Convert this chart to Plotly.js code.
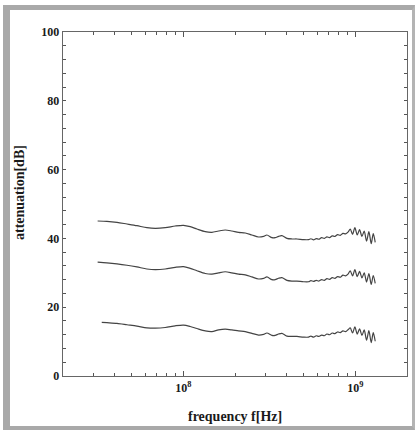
<!DOCTYPE html>
<html>
<head>
<meta charset="utf-8">
<script src="https://cdn.plot.ly/plotly-3.0.1.min.js"></script>
<style>
  html, body { margin: 0; padding: 0; background: #ffffff; width: 415px; height: 434px; overflow: hidden; }
  #frame { position: absolute; left: 3px; top: 5px; width: 402px; height: 416px;
           border-left: 7px solid #a9a9a9; border-top: 5px solid #a9a9a9;
           border-right: 3px solid #b4b4b4; border-bottom: 4px solid #a9a9a9; background: #ffffff; }
  #chart { position: absolute; left: 0; top: 0; width: 415px; height: 434px; }
</style>
</head>
<body>
<div id="frame"></div>
<div id="chart"></div>
<script>
// Frequencies in MHz (shared by upper and middle curves)
const freqMHz = [31.8, 36.0, 41.2, 47.1, 53.8, 61.5, 68.8, 78.6, 89.9, 100.4,
  109.8, 120.1, 134.2, 146.8, 160.5, 175.5, 191.8, 209.7, 229.4, 250.7,
  274.2, 293.2, 306.6, 327.9, 342.5, 358.3, 374.6, 400.6, 428.3, 458.0,
  500.7, 535.5, 552.4, 572.5, 593.3, 614.9, 637.3, 660.5, 684.5, 709.4,
  735.2, 761.9, 789.6, 818.3, 848.1, 878.9, 910.8, 935.3, 965.0, 995.6,
  1027, 1060, 1094, 1128, 1164, 1201, 1239, 1273, 1307];

// Lower curve starts slightly later
const freqLowMHz = [33.6, 36.0, 41.2, 47.1, 53.8, 61.5, 68.8, 78.6, 89.9, 100.4,
  109.8, 120.1, 134.2, 146.8, 160.5, 175.5, 191.8, 209.7, 229.4, 250.7,
  274.2, 293.2, 306.6, 327.9, 342.5, 358.3, 374.6, 400.6, 428.3, 458.0,
  500.7, 535.5, 552.4, 572.5, 593.3, 614.9, 637.3, 660.5, 684.5, 709.4,
  735.2, 761.9, 789.6, 818.3, 848.1, 878.9, 910.8, 935.3, 965.0, 995.6,
  1027, 1060, 1094, 1128, 1164, 1201, 1239, 1273, 1307];

const attenUpper = [45.06, 44.96, 44.67, 44.19, 43.70, 43.12, 42.93, 43.12, 43.60, 43.80,
  43.41, 42.73, 41.96, 41.76, 42.15, 42.44, 42.15, 41.76, 41.57, 40.99,
  40.41, 40.60, 40.99, 40.21, 40.21, 40.60, 40.79, 40.02, 39.83, 39.83,
  39.63, 39.63, 39.90, 39.60, 39.95, 39.75, 40.20, 40.00, 40.45, 40.25,
  40.75, 40.55, 41.10, 40.90, 41.45, 41.30, 41.90, 42.73, 41.18, 43.12,
  40.99, 42.54, 40.60, 42.15, 39.24, 41.96, 38.47, 41.38, 38.86];

const attenMiddle = [33.1, 32.9, 32.6, 32.2, 31.7, 31.1, 30.9, 31.1, 31.6, 31.8,
  31.3, 30.6, 29.8, 29.6, 30.0, 30.3, 30.0, 29.6, 29.4, 28.8,
  28.2, 28.4, 28.8, 28.0, 28.0, 28.4, 28.6, 27.8, 27.6, 27.6,
  27.4, 27.4, 27.7, 27.5, 27.8, 27.6, 28.0, 27.8, 28.3, 28.1,
  28.6, 28.4, 28.9, 28.7, 29.3, 29.1, 29.7, 30.6, 29.1, 30.9,
  28.9, 30.4, 28.5, 30.0, 27.3, 29.8, 26.6, 29.2, 26.9];

const attenLower = [15.6, 15.5, 15.3, 14.9, 14.5, 14.0, 13.9, 14.1, 14.6, 14.8,
  14.4, 13.8, 13.1, 12.9, 13.4, 13.6, 13.4, 13.1, 12.9, 12.4,
  11.9, 12.1, 12.5, 11.8, 11.8, 12.2, 12.4, 11.6, 11.5, 11.5,
  11.3, 11.3, 11.6, 11.3, 11.7, 11.5, 11.9, 11.7, 12.2, 12.0,
  12.5, 12.3, 12.8, 12.6, 13.1, 12.9, 13.5, 14.0, 12.5, 14.3,
  12.2, 13.7, 11.8, 13.4, 10.4, 13.2, 9.7, 12.6, 10.1];

const xTickVals = [1e8, 1e9];
const xTickText = ['10<sup>8</sup>', '10<sup>9</sup>'];
const yTickVals = [0, 20, 40, 60, 80, 100];
const xTitle = 'frequency f[Hz]';
const yTitle = 'attenuation[dB]';

const toHz = a => a.map(v => v * 1e6);
const lineStyle = { color: '#444444', width: 1.2, shape: 'spline', smoothing: 0.8 };

const traces = [
  { x: toHz(freqMHz), y: attenUpper, mode: 'lines', line: lineStyle, hoverinfo: 'skip' },
  { x: toHz(freqMHz), y: attenMiddle, mode: 'lines', line: lineStyle, hoverinfo: 'skip' },
  { x: toHz(freqLowMHz), y: attenLower, mode: 'lines', line: lineStyle, hoverinfo: 'skip' }
];

const serif = 'Liberation Serif, Times New Roman, serif';
const tickFont = { family: serif, size: 12, color: '#1a1a1a', weight: 'bold' };

const layout = {
  width: 415, height: 434,
  margin: { l: 63, r: 8, t: 32, b: 58 },
  paper_bgcolor: 'rgba(0,0,0,0)',
  plot_bgcolor: '#ffffff',
  showlegend: false,
  xaxis: {
    type: 'log',
    range: [Math.log10(2e7), Math.log10(2e9)],
    tickmode: 'array', tickvals: xTickVals, ticktext: xTickText,
    ticks: 'inside', ticklen: 5, tickwidth: 1, tickcolor: '#555',
    minor: { ticks: 'inside', ticklen: 3, tickwidth: 1, tickcolor: '#555', dtick: 'D1', showgrid: false },
    showline: true, linecolor: '#666', linewidth: 1.3, mirror: 'ticks',
    showgrid: false, zeroline: false,
    tickfont: tickFont
  },
  yaxis: {
    range: [0, 100],
    tickmode: 'array', tickvals: yTickVals,
    ticks: 'inside', ticklen: 3, tickwidth: 1, tickcolor: '#555',
    minor: { ticks: 'inside', ticklen: 3, tickwidth: 1, tickcolor: '#555', dtick: 4, showgrid: false },
    showline: true, linecolor: '#666', linewidth: 1.3, mirror: 'ticks',
    showgrid: false, zeroline: false,
    tickfont: tickFont
  },
  annotations: [
    { text: xTitle, xref: 'paper', yref: 'paper', x: 0.5, y: -0.119, xanchor: 'center', yanchor: 'middle',
      showarrow: false, font: { family: serif, size: 14, color: '#1a1a1a', weight: 'bold' } },
    { text: yTitle, xref: 'paper', yref: 'paper', x: -0.125, y: 0.532, xanchor: 'center', yanchor: 'middle',
      textangle: -90, showarrow: false, font: { family: serif, size: 14, color: '#1a1a1a', weight: 'bold' } }
  ]
};

Plotly.newPlot('chart', traces, layout, { staticPlot: true, displayModeBar: false });
</script>
</body>
</html>
